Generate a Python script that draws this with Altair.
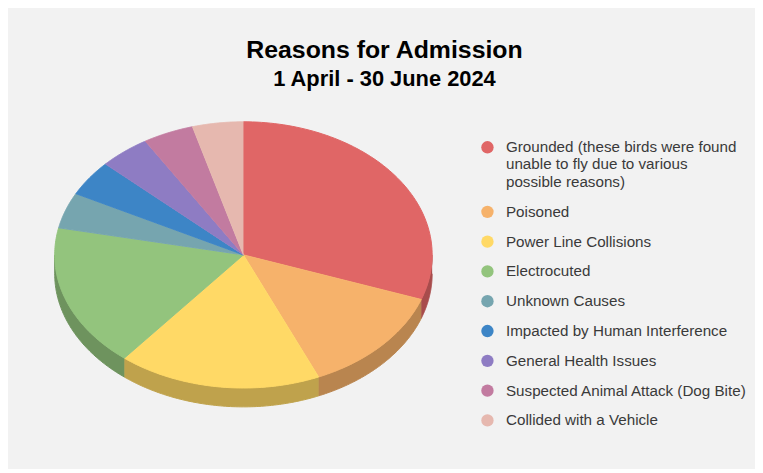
import altair as alt
import pandas as pd

# ---- data ----
categories = [
    "Grounded (these birds were found unable to fly due to various possible reasons)",
    "Poisoned",
    "Power Line Collisions",
    "Electrocuted",
    "Unknown Causes",
    "Impacted by Human Interference",
    "General Health Issues",
    "Suspected Animal Attack (Dog Bite)",
    "Collided with a Vehicle",
]
counts = [7, 3, 4, 4, 1, 1, 1, 1, 1]

# ---- styling ----
top_colors = ["#e06666", "#f6b26b", "#ffd966", "#93c47d", "#76a5af",
              "#3d85c6", "#8e7cc3", "#c27ba0", "#e6b8af"]
side_colors = ["#a84c4c", "#b9854f", "#bfa24c", "#6e935e", "#587c83",
               "#2e6494", "#6a5d92", "#915c78", "#ad8a83"]

RY = 0.705   # vertical squash of the tilted pie
D = 0.10     # thickness of the pie
N = 80       # points per arc

df = pd.DataFrame({"cat": categories, "count": counts, "order": list(range(len(counts)))})

base = (
    alt.Chart(df)
    .transform_window(cum="sum(count)", sort=[alt.SortField("order")], frame=[None, 0])
    .transform_joinaggregate(total="sum(count)")
    .transform_calculate(
        a1="2*PI*(datum.cum - datum.count)/datum.total",
        a2="2*PI*datum.cum/datum.total",
    )
)

xenc = alt.X("px:Q", scale=alt.Scale(domain=[-1, 1], nice=False, zero=False), axis=None)
yenc = alt.Y("py:Q", scale=alt.Scale(domain=[-(RY + D), RY], nice=False, zero=False), axis=None)

# side walls (visible front half only)
sides = (
    base.transform_calculate(lo="max(datum.a1, PI/2)", hi="min(datum.a2, 3*PI/2)")
    .transform_filter("datum.lo < datum.hi")
    .transform_calculate(idx=f"sequence(0, {2 * N + 2})")
    .transform_flatten(["idx"])
    .transform_calculate(
        j=f"datum.idx <= {N} ? datum.idx : {2 * N + 1} - datum.idx",
    )
    .transform_calculate(
        t=f"datum.lo + (datum.hi - datum.lo) * datum.j / {N}",
    )
    .transform_calculate(
        px="sin(datum.t)",
        py=f"{RY} * cos(datum.t) - (datum.idx <= {N} ? 0 : {D})",
    )
    .mark_line(strokeWidth=1, strokeJoin="round")
    .encode(
        x=xenc,
        y=yenc,
        fill=alt.Fill("cat:N", scale=alt.Scale(domain=categories, range=side_colors), legend=None),
        stroke=alt.Stroke("cat:N", scale=alt.Scale(domain=categories, range=side_colors), legend=None),
        order=alt.Order("idx:Q"),
    )
)

label_expr = (
    "indexof(datum.label, 'Grounded') == 0 ? "
    "['Grounded (these birds were found', 'unable to fly due to various', 'possible reasons)'] "
    ": datum.label"
)

tops = (
    base.transform_calculate(idx=f"sequence(0, {N + 2})")
    .transform_flatten(["idx"])
    .transform_calculate(t=f"datum.a1 + (datum.a2 - datum.a1) * (datum.idx - 1) / {N}")
    .transform_calculate(
        px="datum.idx == 0 ? 0 : sin(datum.t)",
        py=f"datum.idx == 0 ? 0 : {RY} * cos(datum.t)",
    )
    .mark_line(strokeWidth=1, strokeJoin="round")
    .encode(
        x=xenc,
        y=yenc,
        fill=alt.Fill(
            "cat:N",
            scale=alt.Scale(domain=categories, range=top_colors),
            legend=alt.Legend(
                title=None,
                orient="none",
                legendX=428,
                legendY=18,
                symbolType="circle",
                symbolSize=155,
                symbolStrokeWidth=0,
                labelFont="Liberation Sans",
                labelFontSize=15.3,
                labelColor="#3a3a3a",
                labelLimit=0,
                labelOffset=11,
                rowPadding=14,
                padding=0,
                labelExpr=label_expr,
            ),
        ),
        stroke=alt.Stroke("cat:N", scale=alt.Scale(domain=categories, range=top_colors), legend=None),
        order=alt.Order("idx:Q"),
    )
)

chart = (
    alt.layer(sides, tops)
    .resolve_scale(fill="independent", stroke="independent")
    .properties(
        width=380,
        height=287,
        padding={"left": 47, "top": 113, "right": 325, "bottom": 61},
        autosize=alt.AutoSizeParams(type="none"),
        background="#f2f2f2",
        title=alt.TitleParams(
            text="Reasons for Admission",
            subtitle="1 April - 30 June 2024",
            anchor="middle",
            dx=142,
            font="Liberation Sans",
            fontSize=25,
            fontWeight="bold",
            color="#000000",
            subtitleFont="Liberation Sans",
            subtitleFontSize=22,
            subtitleFontWeight="bold",
            subtitleColor="#000000",
            subtitlePadding=6,
            offset=32,
        ),
    )
    .configure_view(strokeWidth=0)
)

chart.save("out.html", embed_options={"renderer": "svg", "actions": False})
